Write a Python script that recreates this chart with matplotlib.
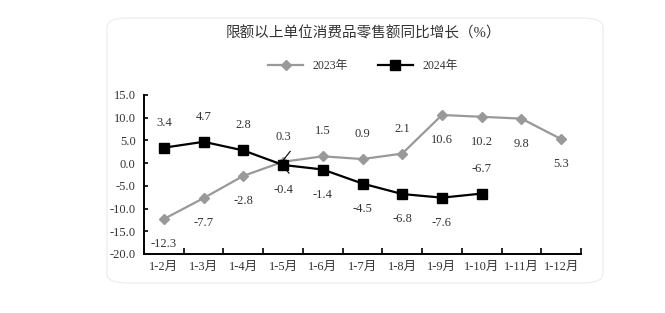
import numpy as np
import matplotlib.pyplot as plt
from matplotlib.patches import FancyBboxPatch

months = ['1-2月', '1-3月', '1-4月', '1-5月', '1-6月', '1-7月', '1-8月',
          '1-9月', '1-10月', '1-11月', '1-12月']
v2023 = [-12.3, -7.7, -2.8, 0.3, 1.5, 0.9, 2.1, 10.6, 10.2, 9.8, 5.3]
v2024 = [3.4, 4.7, 2.8, -0.4, -1.4, -4.5, -6.8, -7.6, -6.7]
# label above (+1) or below (-1) the point
pos2023 = [-1, -1, -1, 1, 1, 1, 1, -1, -1, -1, -1]
pos2024 = [1, 1, 1, -1, -1, -1, -1, -1, 1]

fonts = ['Liberation Serif', 'Noto Sans CJK SC']
plt.rcParams['font.family'] = fonts

fig = plt.figure(figsize=(6.65, 3.13), dpi=100)
fig.patch.set_facecolor('white')

# rounded card behind the chart
card = FancyBboxPatch((107 / 665, 1 - 283 / 313), (603 - 107) / 665, (283 - 18) / 313,
                      boxstyle='round,pad=0,rounding_size=0.03', transform=fig.transFigure,
                      facecolor='white', edgecolor='#ebebeb', linewidth=0.8, zorder=-5)
fig.patches.append(card)

ax = fig.add_axes([144 / 665, 1 - 254 / 313, (581 - 144) / 665, (254 - 95) / 313])
ax.set_facecolor('none')
ax.set_zorder(3)

x23 = np.arange(len(v2023))
x24 = np.arange(len(v2024))
ax.plot(x23, v2023, color='#999999', lw=1.6, marker='D', ms=5.5, label='2023年')
ax.plot(x24, v2024, color='black', lw=1.6, marker='s', ms=6.5, label='2024年')

for xi, v, p in zip(x23, v2023, pos2023):
    ax.annotate(f'{v:.1f}', (xi, v), xytext=(0, 18 * p), textcoords='offset points',
                ha='center', va='center', fontsize=9, color='#333333')
for xi, v, p in zip(x24, v2024, pos2024):
    ax.annotate(f'{v:.1f}', (xi, v), xytext=(0, 18 * p), textcoords='offset points',
                ha='center', va='center', fontsize=9, color='#333333')

# small leader near 1-5
ax.plot([3.0, 3.18], [0.6, 2.6], color='black', lw=0.8)
ax.plot([3.0, 3.15], [-0.6, -2.2], color='black', lw=0.8)

ax.set_xlim(-0.5, len(months) - 0.5)
ax.set_ylim(-20, 15)
ax.set_yticks(np.arange(-20, 15.1, 5))
ax.set_yticklabels([f'{t:.1f}' for t in np.arange(-20, 15.1, 5)], fontsize=9, color='#333333')
ax.set_xticks(np.arange(len(months)))
ax.set_xticklabels(months, fontsize=9, color='#333333')
ax.set_xticks(np.arange(len(months) + 1) - 0.5, minor=True)
ax.tick_params(axis='x', which='major', length=0, pad=5)
ax.tick_params(axis='x', which='minor', direction='in', length=4, width=1.2)
ax.tick_params(axis='y', direction='in', length=3, width=1.2, pad=6)
for s in ['top', 'right']:
    ax.spines[s].set_visible(False)
for s in ['left', 'bottom']:
    ax.spines[s].set_linewidth(1.4)

fig.text(363 / 665, 1 - 33 / 313, '限额以上单位消费品零售额同比增长（%）', ha='center', va='center',
         fontsize=10.5, color='#333333')
fig.legend(loc='center', bbox_to_anchor=(363 / 665, 1 - 66 / 313), ncol=2, frameon=False,
           fontsize=8.5, handlelength=3, columnspacing=2.5, labelcolor='#333333')

fig.savefig('out.png', dpi=100)
